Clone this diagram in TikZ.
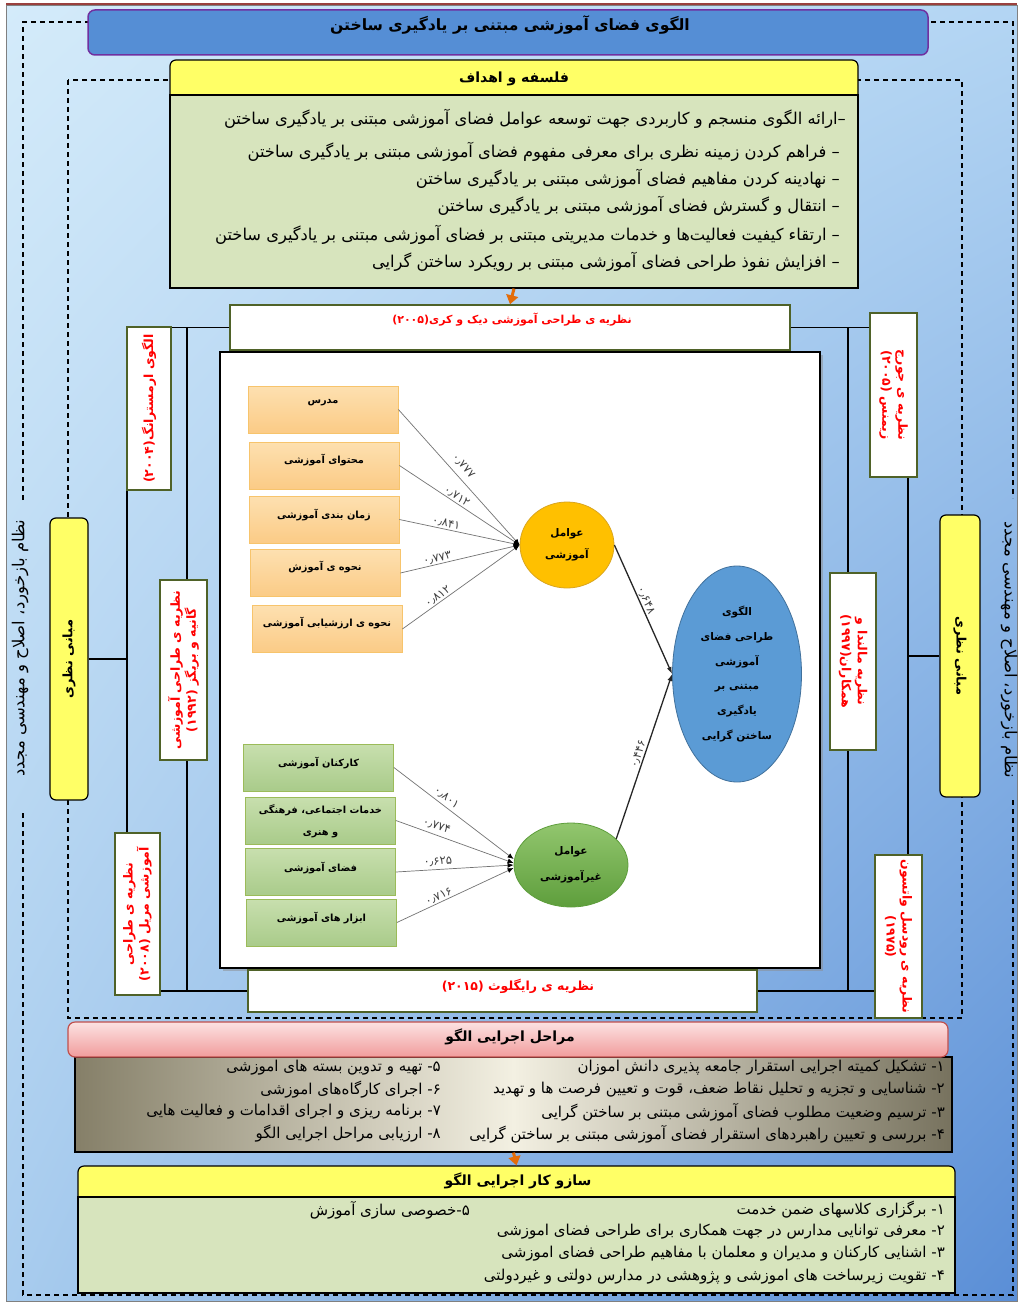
\documentclass[tikz,border=0pt]{standalone}
\usepackage{fontspec}
\usetikzlibrary{arrows.meta,shapes.geometric,shadows,shadings}
\newfontfamily\fa[Script=Arabic]{DejaVu Sans}
\TeXXeTstate=1
\newcommand{\RL}[1]{\beginR #1\endR}
\definecolor{bgTL}{HTML}{D4EBFA}
\definecolor{bgTR}{HTML}{B3D5F3}
\definecolor{bgBL}{HTML}{A8CCEE}
\definecolor{bgBR}{HTML}{5A8ED6}
\definecolor{titleblue}{HTML}{558ED5}
\definecolor{purp}{HTML}{7030A0}
\definecolor{yel}{HTML}{FFFF66}
\definecolor{olivebody}{HTML}{D7E4BD}
\definecolor{olivegreen}{HTML}{4F6228}
\definecolor{orBorder}{HTML}{F7C46C}
\definecolor{orTop}{HTML}{FDE0B0}
\definecolor{orBot}{HTML}{FBCB86}
\definecolor{grBorder}{HTML}{9BBB59}
\definecolor{grTop}{HTML}{C8DFAE}
\definecolor{grBot}{HTML}{A9CB8A}
\definecolor{ycirc}{HTML}{FFC000}
\definecolor{ycircB}{HTML}{D9A520}
\definecolor{gcTop}{HTML}{92C66E}
\definecolor{gcBot}{HTML}{5E9E3C}
\definecolor{bcirc}{HTML}{5B9BD5}
\definecolor{bcircB}{HTML}{41719C}
\definecolor{arrorange}{HTML}{E36C09}
\definecolor{pinkTop}{HTML}{FCE2E2}
\definecolor{pinkBot}{HTML}{F19C9C}
\definecolor{pinkB}{HTML}{C0504D}
\definecolor{stL}{HTML}{857F68}
\definecolor{stM}{HTML}{F3F0E2}
\definecolor{stR}{HTML}{77725E}
\begin{document}
\begin{tikzpicture}[x=1pt,y=-1pt,
  conn/.style={draw=black, line width=1.3pt},
  dashline/.style={draw=black, line width=1.1pt, dash pattern=on 5pt off 4pt},
  theo/.style={draw=olivegreen, line width=1.5pt, fill=white, text=red, font=\fa\bfseries\fontsize{12.5}{16}\selectfont, align=center, inner sep=0pt},
  theotxt/.style={text=red, font=\fa\bfseries\fontsize{11}{14}\selectfont, inner sep=0pt},
  sidebox/.style={draw=black, line width=1.2pt, fill=yel, rounded corners=6pt, font=\fa\bfseries\fontsize{13}{16}\selectfont, inner sep=0pt},
  sidetxt/.style={font=\fa\fontsize{16.5}{18}\selectfont, inner sep=0pt},
  obox/.style={draw=orBorder, line width=0.8pt, top color=orTop, bottom color=orBot, minimum width=150, minimum height=47, inner sep=0pt},
  gbox/.style={draw=grBorder, line width=0.8pt, top color=grTop, bottom color=grBot, minimum width=150, minimum height=47, inner sep=0pt},
  semtxt/.style={font=\fa\bfseries\fontsize{9.8}{22}\selectfont, align=center, inner sep=0pt},
  coef/.style={font=\fa\fontsize{11.5}{13}\selectfont, text=black!75, sloped, above, inner sep=1pt},
  inl/.style={draw=black!55, line width=0.7pt, -{Latex[length=6pt,width=5pt,color=black]}},
  outl/.style={draw=black!85, line width=1.3pt, -{Latex[length=7pt,width=5pt]}},
  bodytxt/.style={font=\fa\fontsize{16.3}{18}\selectfont, anchor=east, inner sep=0pt},
  listtxt/.style={font=\fa\fontsize{15}{16}\selectfont, anchor=east, inner sep=0pt},
  headtxt/.style={font=\fa\bfseries\fontsize{14}{16}\selectfont, inner sep=0pt},
  orarrow/.style={draw=arrorange, line width=3pt, -{Triangle[length=9pt,width=12pt]}}
]
\useasboundingbox (0,0) rectangle (1019,1303);
% background
\shade[upper left=bgTL, upper right=bgTR, lower left=bgBL, lower right=bgBR] (6,5) rectangle (1017,1301);
\draw[black!50, line width=0.6pt] (6,5) rectangle (1017,1301);
\draw[pinkB!80!black, line width=2pt] (6,4) -- (1017,4);

% outer dashed frame
\draw[dashline] (23,500) -- (23,22) -- (1013,22) -- (1013,498);
\draw[dashline] (1013,800) -- (1013,1295) -- (23,1295) -- (23,810);
\node[sidetxt, rotate=90] (fbL) at (20,648) {\RL{نظام بازخورد، اصلاح و مهندسی مجدد}};
\node[sidetxt, rotate=-90] (fbR) at (1009,650) {\RL{نظام بازخورد، اصلاح و مهندسی مجدد}};

% inner dashed frame
\draw[dashline] (68,80) rectangle (962,1018);

% title
\node[draw=purp, line width=1.5pt, fill=titleblue, rounded corners=7pt, minimum width=840, minimum height=45, inner sep=0pt] (title) at (508,32.5) {};
\node[font=\fa\bfseries\fontsize{15.6}{18}\selectfont, inner sep=0pt] (titlet) at (510,25) {\RL{الگوی فضای آموزشی مبتنی بر یادگیری ساختن}};

% philosophy box
\node[draw=black, line width=1.2pt, fill=yel, rounded corners=6pt, minimum width=688, minimum height=40, inner sep=0pt] (philh) at (514,80) {};
\node[draw=black, line width=1.2pt, fill=olivebody, minimum width=688, minimum height=193, inner sep=0pt] (phil) at (514,191.5) {};
\node[headtxt] (philht) at (514,79) {\RL{فلسفه و اهداف}};
\node[bodytxt] (p1) at (846,119) {\RL{–ارائه الگوی منسجم و کاربردی جهت توسعه عوامل فضای آموزشی مبتنی بر یادگیری ساختن}};
\node[bodytxt] (p2) at (840,152) {\RL{– فراهم کردن زمینه نظری برای معرفی مفهوم فضای آموزشی مبتنی بر یادگیری ساختن}};
\node[bodytxt] (p3) at (840,179) {\RL{– نهادینه کردن مفاهیم فضای آموزشی مبتنی بر یادگیری ساختن}};
\node[bodytxt] (p4) at (840,206) {\RL{– انتقال و گسترش فضای آموزشی مبتنی بر یادگیری ساختن}};
\node[bodytxt] (p5) at (840,235) {\RL{– ارتقاء کیفیت فعالیت^^^^200cها و خدمات مدیریتی مبتنی بر فضای آموزشی مبتنی بر یادگیری ساختن}};
\node[bodytxt] (p6) at (840,262) {\RL{– افزایش نفوذ طراحی فضای آموزشی مبتنی بر رویکرد ساختن گرایی}};

% SEM frame
\node[draw=black, line width=1.6pt, fill=white, minimum width=600, minimum height=616, inner sep=0pt,
      drop shadow={shadow xshift=3pt, shadow yshift=-3pt, fill=black!45}] (sem) at (520,660) {};

% theory boxes top / bottom
\node[theo, minimum width=560, minimum height=45] (T) at (510,327.5) {};
\node[theotxt] (Tt) at (512,320) {\RL{نظریه ی طراحی آموزشی دیک و کری\kern0pt(۲۰۰۵)}};
\node[theo, minimum width=509, minimum height=42] (B) at (502.5,991) {};
\node[theotxt, font=\fa\bfseries\fontsize{12.5}{14}\selectfont] (Bt) at (518,986) {\RL{نظریه ی رایگلوث (۲۰۱۵)}};
\draw[orarrow] (phil.south) -- (T.north);

% side yellow boxes
\node[sidebox, rotate=90, minimum width=282, minimum height=38] (LY) at (69,659) {\RL{مبانی نظری}};
\node[sidebox, rotate=-90, minimum width=282, minimum height=40] (RY) at (960,656) {\RL{مبانی نظری}};

% tree connectors
\draw[conn] (T.west) -- (149,327.5);
\draw[conn] (B.west) -- (137,991);
\draw[conn] (T.east) -- (893,327.5);
\draw[conn] (B.east) -- (898,991);
\draw[conn] (LY.south) -- (127,659);
\draw[conn] (127,450) -- (127,880);
\draw[conn] (RY.south) -- (908,656);
\draw[conn] (908,440) -- (908,900);
\draw[conn] (187,327.5) -- (187,991);
\draw[conn] (848,327.5) -- (848,991);

% left theory boxes
\node[theo, rotate=90, minimum width=163, minimum height=44] (L1) at (149,408.5) {\RL{الگوی ارمسترانگ\kern0pt(۲۰۰۴)}};
\node[theo, rotate=90, minimum width=180, minimum height=47] (L2) at (183.5,670) {\RL{نظریه ی طراحی آموزشی}\\\RL{گانیه و بریگز (۱۹۹۲)}};
\node[theo, rotate=90, minimum width=162, minimum height=45] (L3) at (137.5,914) {\RL{نظریه ی طراحی}\\\RL{آموزشی مریل (۲۰۰۸)}};
% right theory boxes
\node[theo, rotate=-90, minimum width=164, minimum height=47] (R1) at (893.5,395) {\RL{نظریه ی جورج}\\\RL{زیمنس (۲۰۰۵)}};
\node[theo, rotate=-90, minimum width=177, minimum height=46] (R2) at (853,661.5) {\RL{نظریه مالندا و}\\\RL{همکاران\kern0pt(۱۹۹۷)}};
\node[theo, rotate=-90, minimum width=163, minimum height=47] (R3) at (898.5,936.5) {\RL{نظریه ی رودسل واتسون}\\\RL{(۱۹۷۵)}};

% SEM: educational factors
\node[obox] (o1) at (323,409.5) {};
\node[obox] (o2) at (324,465.5) {};
\node[obox] (o3) at (324,519.5) {};
\node[obox] (o4) at (325,573) {};
\node[obox] (o5) at (327,629) {};
\node[semtxt] (o1t) at (323,403) {\RL{مدرس}};
\node[semtxt] (o2t) at (324,460) {\RL{محتوای آموزشی}};
\node[semtxt] (o3t) at (324,515) {\RL{زمان بندی آموزشی}};
\node[semtxt] (o4t) at (325,567) {\RL{نحوه ی آموزش}};
\node[semtxt] (o5t) at (327,623) {\RL{نحوه ی ارزشیابی آموزشی}};

\node[gbox] (g1) at (318.5,767.5) {};
\node[gbox] (g2) at (320.5,820.5) {};
\node[gbox] (g3) at (320.5,872) {};
\node[gbox] (g4) at (321.5,922.5) {};
\node[semtxt] (g1t) at (318.5,763) {\RL{کارکنان آموزشی}};
\node[semtxt] (g2t) at (320.5,821) {\RL{خدمات اجتماعی، فرهنگی}\\\RL{و هنری}};
\node[semtxt] (g3t) at (320.5,868) {\RL{فضای آموزشی}};
\node[semtxt] (g4t) at (321.5,918) {\RL{ابزار های آموزشی}};

\node[ellipse, draw=ycircB, line width=0.8pt, fill=ycirc, minimum width=94, minimum height=86, inner sep=0pt, semtxt, font=\fa\bfseries\fontsize{10.5}{22}\selectfont] (yc) at (567,545) {\RL{عوامل}\\\RL{آموزشی}};
\node[ellipse, draw=gcBot, line width=0.8pt, top color=gcTop, bottom color=gcBot, minimum width=114, minimum height=84, inner sep=0pt, semtxt, font=\fa\bfseries\fontsize{10.5}{26}\selectfont] (gc) at (571,865) {\RL{عوامل}\\\RL{غیرآموزشی}};
\node[ellipse, draw=bcircB, line width=0.8pt, fill=bcirc, minimum width=129, minimum height=216, inner sep=0pt, font=\fa\bfseries\fontsize{10.5}{24.8}\selectfont, align=center] (bc) at (737,674) {\RL{الگوی}\\\RL{طراحی فضای}\\\RL{آموزشی}\\\RL{مبتنی بر}\\\RL{یادگیری}\\\RL{ساختن گرایی}};

\draw[inl] (o1.east) -- node[coef, pos=.47, above=5pt] {۰٫۷۷۷} (yc.west);
\draw[inl] (o2.east) -- node[coef, pos=.45] {۰٫۷۱۲} (yc.west);
\draw[inl] (o3.east) -- node[coef, pos=.38] {۰٫۸۴۱} (yc.west);
\draw[inl] (o4.east) -- node[coef, pos=.32] {۰٫۷۷۳} (yc.west);
\draw[inl] (o5.east) -- node[coef, pos=.33] {۰٫۸۱۲} (yc.west);
\draw[inl] (g1.east) -- node[coef, pos=.4, above=2pt] {۰٫۸۰۱} ([yshift=6pt]gc.west);
\draw[inl] (g2.east) -- node[coef, pos=.32, above=3pt] {۰٫۷۷۴} ([yshift=2pt]gc.west);
\draw[inl] (g3.east) -- node[coef, pos=.36, above=2pt] {۰٫۶۲۵} (gc.west);
\draw[inl] (g4.east) -- node[coef, pos=.38] {۰٫۷۱۶} ([yshift=-3pt]gc.west);
\draw[outl] (yc.east) -- node[coef, pos=.45] {۰٫۶۴۸} (bc.west);
\draw[outl] (gc.30) -- node[coef, pos=.5] {۰٫۴۴۶} (bc.west);

% stages
\node[draw=black, line width=1.2pt, left color=stL, right color=stR, middle color=stM, minimum width=877, minimum height=95, inner sep=0pt] (stb) at (513.5,1104.5) {};
\node[draw=pinkB, line width=1.2pt, top color=pinkTop, bottom color=pinkBot, rounded corners=7pt, minimum width=880, minimum height=35, inner sep=0pt] (sth) at (508,1039.5) {};
\node[headtxt] (stht) at (510,1037) {\RL{مراحل اجرایی الگو}};
\node[listtxt] (s1) at (945,1068) {\RL{۱\kern0pt- تشکیل کمیته اجرایی استقرار جامعه پذیری دانش اموزان}};
\node[listtxt] (s2) at (945,1090) {\RL{۲\kern0pt- شناسایی و تجزیه و تحلیل نقاط ضعف، قوت و تعیین فرصت ها و تهدید}};
\node[listtxt] (s3) at (945,1112) {\RL{۳\kern0pt- ترسیم وضعیت مطلوب فضای آموزشی مبتنی بر ساختن گرایی}};
\node[listtxt] (s4) at (945,1134) {\RL{۴\kern0pt- بررسی و تعیین راهبردهای استقرار فضای آموزشی مبتنی بر ساختن گرایی}};
\node[listtxt] (s5) at (441,1068) {\RL{۵\kern0pt- تهیه و تدوین بسته های اموزشی}};
\node[listtxt] (s6) at (441,1090) {\RL{۶\kern0pt- اجرای کارگاه^^^^200cهای اموزشی}};
\node[listtxt] (s7) at (441,1112) {\RL{۷\kern0pt- برنامه ریزی و اجرای اقدامات و فعالیت هایی}};
\node[listtxt] (s8) at (441,1134) {\RL{۸\kern0pt- ارزیابی مراحل اجرایی الگو}};

% mechanisms
\node[draw=black, line width=1.2pt, fill=yel, rounded corners=6pt, minimum width=877, minimum height=36, inner sep=0pt] (mh) at (516.5,1184) {};
\node[draw=black, line width=1.2pt, fill=olivebody, minimum width=877, minimum height=96, inner sep=0pt] (mb) at (516.5,1245) {};
\node[headtxt] (mht) at (518,1181) {\RL{سازو کار اجرایی الگو}};
\draw[orarrow] (stb.south) -- (mh.north);
\node[listtxt] (m1) at (945,1210) {\RL{۱\kern0pt- برگزاری کلاسهای ضمن خدمت}};
\node[listtxt] (m2) at (945,1232) {\RL{۲\kern0pt- معرفی توانایی مدارس در جهت همکاری برای طراحی فضای اموزشی}};
\node[listtxt] (m3) at (945,1254) {\RL{۳\kern0pt- اشنایی کارکنان و مدیران و معلمان با مفاهیم طراحی فضای اموزشی}};
\node[listtxt] (m4) at (945,1277) {\RL{۴\kern0pt- تقویت زیرساخت های اموزشی و پژوهشی در مدارس دولتی و غیردولتی}};
\node[listtxt] (m5) at (470,1210) {\RL{۵\kern0pt-خصوصی سازی آموزش}};
\end{tikzpicture}
\end{document}
